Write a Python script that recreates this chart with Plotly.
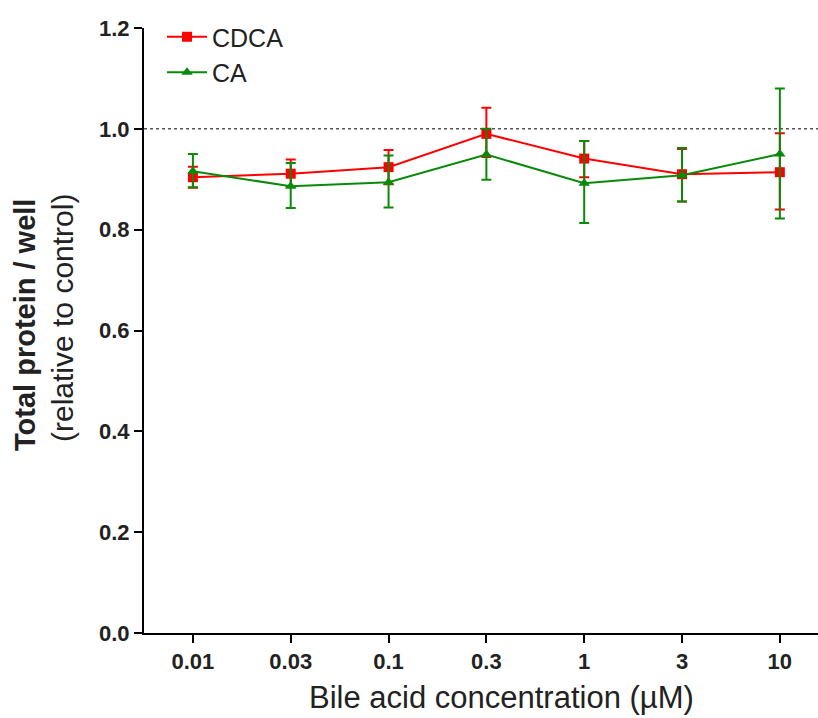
import plotly.graph_objects as go

categories = ["0.01", "0.03", "0.1", "0.3", "1", "3", "10"]

cdca_mean = [0.904, 0.911, 0.924, 0.990, 0.941, 0.910, 0.914]
cdca_upper = [0.925, 0.939, 0.958, 1.042, 0.976, 0.960, 0.991]
cdca_lower = [0.883, 0.885, 0.890, 0.944, 0.904, 0.856, 0.840]

ca_mean = [0.916, 0.886, 0.894, 0.949, 0.892, 0.908, 0.950]
ca_upper = [0.950, 0.932, 0.947, 1.000, 0.976, 0.962, 1.080]
ca_lower = [0.884, 0.843, 0.844, 0.899, 0.813, 0.856, 0.822]

y_ticks = [0.0, 0.2, 0.4, 0.6, 0.8, 1.0, 1.2]

x_title = "Bile acid concentration (µM)"
y_title_bold = "Total protein / well"
y_title_sub = "(relative to control)"

FONT = "Liberation Sans, Arial, sans-serif"
TXT = "#222222"

W, H = 818, 718
ML, MR, MT, MB = 144, 0, 28, 85
PW = W - ML - MR
PH = H - MT - MB


def err(mean, up, lo):
    return dict(type="data", symmetric=False,
                array=[u - m for u, m in zip(up, mean)],
                arrayminus=[m - l for m, l in zip(mean, lo)],
                thickness=2, width=5)


fig = go.Figure()
fig.add_trace(go.Scatter(
    x=categories, y=cdca_mean, name="CDCA", mode="lines+markers",
    line=dict(color="#ff0000", width=2),
    marker=dict(symbol="square", size=10, color="#ff0000"),
    error_y=dict(color="#ff0000", **err(cdca_mean, cdca_upper, cdca_lower)),
))
fig.add_trace(go.Scatter(
    x=categories, y=ca_mean, name="CA", mode="lines+markers",
    line=dict(color="#0a8a0a", width=2),
    marker=dict(symbol="triangle-up", size=10, color="#0a8a0a"),
    error_y=dict(color="#0a8a0a", **err(ca_mean, ca_upper, ca_lower)),
))

fig.add_shape(type="line", xref="paper", yref="y", x0=0, x1=1, y0=1.0, y1=1.0,
              line=dict(color="#555555", width=1.5, dash="dot"), layer="below")


def px_x(px):
    return (px - ML) / PW


def px_y(py):
    return (H - MB - py) / PH


fig.add_annotation(text=f"<b>{y_title_bold}</b>", xref="paper", yref="paper",
                   x=px_x(25), y=px_y(325), textangle=-90, showarrow=False,
                   xanchor="center", yanchor="middle",
                   font=dict(size=29, family=FONT, color=TXT))
fig.add_annotation(text=y_title_sub, xref="paper", yref="paper",
                   x=px_x(62), y=px_y(318), textangle=-90, showarrow=False,
                   xanchor="center", yanchor="middle",
                   font=dict(size=30, family=FONT, color=TXT))
fig.add_annotation(text=x_title, xref="paper", yref="paper",
                   x=px_x(501), y=px_y(697), showarrow=False,
                   xanchor="center", yanchor="middle",
                   font=dict(size=31, family=FONT, color=TXT))

fig.update_layout(
    width=W, height=H,
    margin=dict(l=ML, r=MR, t=MT, b=MB),
    paper_bgcolor="white", plot_bgcolor="white",
    font=dict(family=FONT, color=TXT),
    showlegend=True,
    legend=dict(x=px_x(162), y=px_y(14), xanchor="left", yanchor="top",
                font=dict(size=25, family=FONT, color=TXT),
                bgcolor="rgba(0,0,0,0)", itemwidth=40, tracegroupgap=0),
    xaxis=dict(
        type="category", range=[-0.5, 6.39],
        showline=True, linecolor="black", linewidth=2,
        ticks="outside", ticklen=8, tickwidth=2, tickcolor="black",
        showgrid=False, zeroline=False,
        tickfont=dict(size=22, family=FONT, color=TXT, weight="bold"),
    ),
    yaxis=dict(
        range=[0, 1.2], tickvals=y_ticks, tickformat=".1f",
        showline=True, linecolor="black", linewidth=2,
        ticks="outside", ticklen=8, tickwidth=2, tickcolor="black",
        showgrid=False, zeroline=False,
        tickfont=dict(size=22, family=FONT, color=TXT, weight="bold"),
    ),
)

fig.write_html("out.html")
